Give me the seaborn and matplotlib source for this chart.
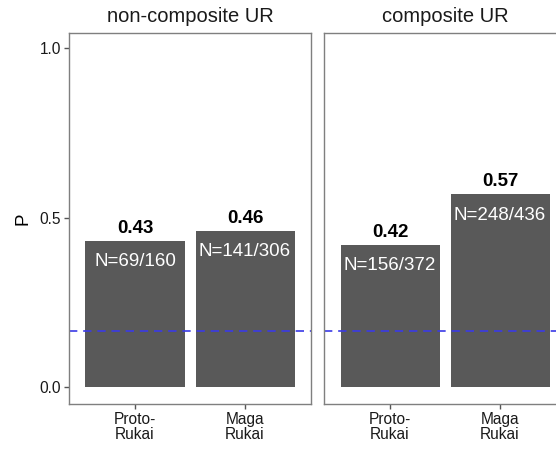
import matplotlib
matplotlib.use("Agg")
import matplotlib.pyplot as plt
import seaborn as sns
import pandas as pd

panels = ["non-composite UR", "composite UR"]
languages = ["Proto-\nRukai", "Maga\nRukai"]
successes = [[69, 141], [156, 248]]
totals = [[160, 306], [372, 436]]
chance = 1 / 6

sns.set_theme(style="white")
plt.rcParams['font.family'] = ['Liberation Sans', 'DejaVu Sans']

fig = plt.figure(figsize=(5.56, 4.49), dpi=100)
W, H = 556, 449
boxes = [(69, 45, 242, 371), (324, 45, 242, 371)]
bar_color = "#595959"
edge = "#7f7f7f"

for i, panel in enumerate(panels):
    x0, y0, w, h = boxes[i]
    ax = fig.add_axes([x0 / W, y0 / H, w / W, h / H])
    p = [s / t for s, t in zip(successes[i], totals[i])]
    df = pd.DataFrame({"lang": languages, "P": p})
    sns.barplot(data=df, x="lang", y="P", ax=ax, color=bar_color,
                saturation=1, width=0.9, edgecolor="none", linewidth=0)
    ax.set_xlim(-0.6, 1.6)
    ax.set_ylim(-0.05, 1.045)
    ax.axhline(chance, color="#3a3ae6", linestyle=(0, (5, 3.5)), linewidth=1.2)
    for j, (val, s, t) in enumerate(zip(p, successes[i], totals[i])):
        ax.annotate(f"{val:.2f}", (j, val), xytext=(0, 3), textcoords="offset points",
                    ha="center", va="bottom", fontsize=13.5, fontweight="bold", color="black")
        ax.annotate(f"N={s}/{t}", (j, val), xytext=(0, -9), textcoords="offset points",
                    ha="center", va="top", fontsize=13.5, color="white")
    ax.set_title(panel, fontsize=14.5, color="#1a1a1a", pad=8)
    ax.set_xlabel("")
    for sp in ax.spines.values():
        sp.set_visible(True)
        sp.set_color(edge)
        sp.set_linewidth(1)
    ax.tick_params(axis="both", which="both", direction="out", length=3.5, width=1,
                   color="#555555", labelsize=11.2, labelcolor="#1a1a1a",
                   bottom=True, left=(i == 0), pad=2)
    ax.set_yticks([0.0, 0.5, 1.0])
    if i == 0:
        ax.set_yticklabels(["0.0", "0.5", "1.0"])
        ax.set_ylabel("P", fontsize=13.5, color="black", labelpad=6)
    else:
        ax.set_yticklabels([])
        ax.set_ylabel("")
    for lab in ax.get_xticklabels():
        lab.set_linespacing(1.0)

fig.savefig("out.png", dpi=100)
